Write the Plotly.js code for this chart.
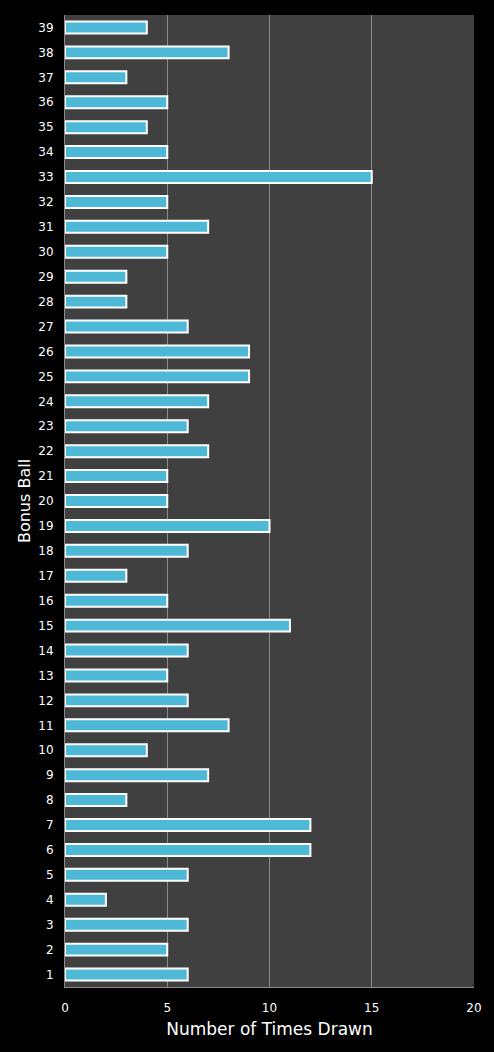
<!DOCTYPE html>
<html>
<head>
<meta charset="utf-8">
<script src="https://cdn.plot.ly/plotly-3.0.1.min.js"></script>
<style>
html, body { margin: 0; padding: 0; background: #000; }
#grafico { width: 494px; height: 1052px; }
</style>
</head>
<body>
<div id="grafico"></div>
<script>
// bonus ball numbers 1..39 and how often each came up
const balls = [];
for (let i = 1; i <= 39; i++) balls.push(String(i));

const timesDrawn = [6, 5, 6, 2, 6, 12, 12, 3, 7, 4,
	8, 6, 5, 6, 11, 5, 3, 6, 10, 5,
	5, 7, 6, 7, 9, 9, 6, 3, 3, 5,
	7, 5, 15, 5, 4, 5, 3, 8, 4];

const xTicks = [0, 5, 10, 15, 20];

plot();
function plot() {
	const trace = {
		type: 'bar',
		orientation: 'h',
		x: timesDrawn,
		y: balls,
		width: 0.48,
		marker: {
			color: '#4db9d6',
			line: { color: '#ffffff', width: 2 }
		},
		hoverinfo: 'x+y'
	};

	const layout = {
		width: 494,
		height: 1052,
		margin: { l: 65, r: 20, t: 15, b: 65 },
		paper_bgcolor: '#000000',
		plot_bgcolor: '#404040',
		font: { family: 'DejaVu Sans, Verdana, sans-serif', color: '#ffffff', size: 12 },
		showlegend: false,
		xaxis: {
			range: [0, 20],
			tickvals: xTicks,
			ticktext: xTicks.map(String),
			showgrid: true,
			gridcolor: '#8a8a8a',
			gridwidth: 1,
			zeroline: false,
			showline: true,
			linecolor: '#8a8a8a',
			linewidth: 1,
			ticks: '',
			ticklabelstandoff: 10,
			tickfont: { size: 12, color: '#ffffff' },
			title: { text: 'Number of Times Drawn', font: { size: 17, color: '#ffffff' }, standoff: 8 },
			fixedrange: true
		},
		yaxis: {
			type: 'category',
			categoryorder: 'array',
			categoryarray: balls,
			range: [-0.5, 38.5],
			showgrid: false,
			zeroline: false,
			showline: true,
			linecolor: '#8a8a8a',
			linewidth: 1,
			ticks: '',
			ticklabelstandoff: 8,
			tickfont: { size: 12, color: '#ffffff' },
			title: { text: 'Bonus Ball', font: { size: 16, color: '#ffffff' }, standoff: 3 },
			fixedrange: true
		}
	};

	Plotly.newPlot('grafico', [trace], layout, { displayModeBar: false, staticPlot: true });
}
</script>
</body>
</html>
